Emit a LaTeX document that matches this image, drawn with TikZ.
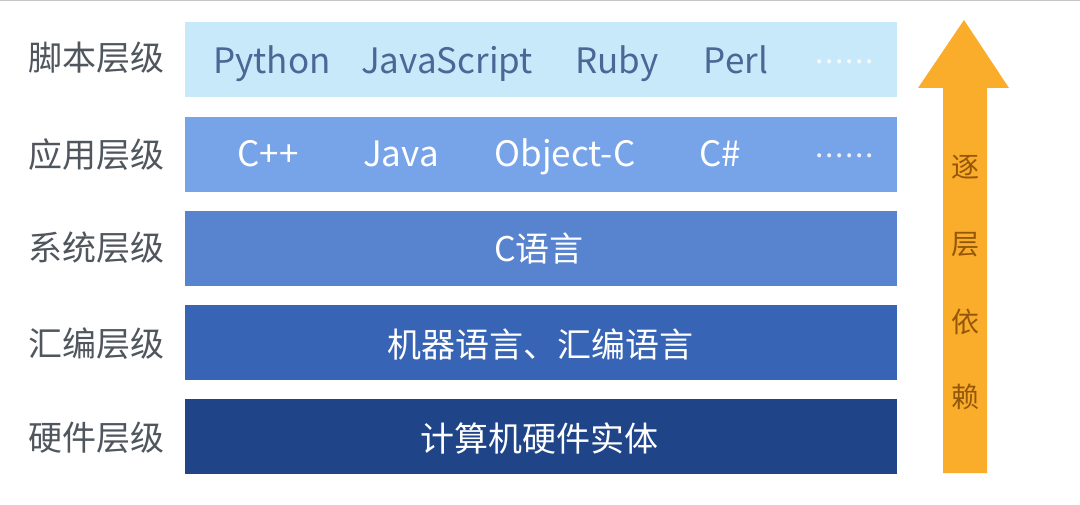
\documentclass[tikz,border=0pt]{standalone}
\usepackage{fontspec}
\setmainfont{Noto Sans CJK SC}
\definecolor{barA}{HTML}{C8E9FA}
\definecolor{barB}{HTML}{77A3E8}
\definecolor{barC}{HTML}{5883CF}
\definecolor{barD}{HTML}{3764B4}
\definecolor{barE}{HTML}{1F4588}
\definecolor{txtA}{HTML}{4A6796}
\definecolor{lbl}{HTML}{50565E}
\definecolor{arrowfill}{HTML}{FAAD2B}
\definecolor{arrowtxt}{HTML}{94570A}
\newcommand{\sixdots}{\makebox[10pt]{.}\makebox[10pt]{.}\makebox[10pt]{.}\makebox[10pt]{.}\makebox[10pt]{.}\makebox[10pt]{.}}
\begin{document}
\begin{tikzpicture}[x=1pt,y=-1pt,
  layerbar/.style={anchor=north west,minimum width=712pt,minimum height=75pt,inner sep=0pt},
  lvl/.style={anchor=base,text=lbl,font=\fontsize{34}{38}\selectfont,inner sep=0pt},
  itemA/.style={anchor=base,text=txtA,font=\fontsize{35}{38}\selectfont,inner sep=0pt},
  itemW/.style={anchor=base,text=white,font=\fontsize{35}{38}\selectfont,inner sep=0pt},
  cjkW/.style={anchor=base,text=white,font=\fontsize{34}{38}\selectfont,inner sep=0pt},
  dotrow/.style={font=\fontsize{30}{32}\selectfont,inner sep=0pt},
  arrowlbl/.style={text=arrowtxt,font=\fontsize{28}{30}\selectfont,inner sep=0pt}]
\useasboundingbox (0,0) rectangle (1080,505);
\fill[white] (0,0) rectangle (1080,505);
\draw[gray!45,line width=1.2pt] (0,0.6) -- (1080,0.6);
% bars
\node[layerbar,fill=barA] (b1) at (185,22) {};
\node[layerbar,fill=barB] (b2) at (185,117) {};
\node[layerbar,fill=barC] (b3) at (185,211) {};
\node[layerbar,fill=barD] (b4) at (185,305) {};
\node[layerbar,fill=barE] (b5) at (185,399) {};
% left labels
\node[lvl] (l1) at (96,70.5) {脚本层级};
\node[lvl] (l2) at (96,167.5) {应用层级};
\node[lvl] (l3) at (96,260.5) {系统层级};
\node[lvl] (l4) at (96,356) {汇编层级};
\node[lvl] (l5) at (96,450.5) {硬件层级};
% bar 1
\node[itemA] (py) at (272,74) {Python};
\node[itemA] (js) at (447,74) {JavaScript};
\node[itemA] (rb) at (617,74) {Ruby};
\node[itemA] (pl) at (736,74) {Perl};
\node[dotrow,text=white!80!barA] (d1) at (845,62) {\sixdots};
% bar 2
\node[itemW] (cpp) at (268,167) {C++};
\node[itemW] (jv) at (401,167) {Java};
\node[itemW] (oc) at (565,167) {Object-C};
\node[itemW] (cs) at (720,167) {C\#};
\node[dotrow,text=white!85!barB] (d2) at (845,156) {\sixdots};
% bars 3-5
\node[cjkW] (c) at (539,262) {C语言};
\node[cjkW] (asm) at (540,357) {机器语言、汇编语言};
\node[cjkW] (hw) at (539,451) {计算机硬件实体};
% arrow
\fill[arrowfill] (943,473) -- (943,88) -- (918,88) -- (964,20) -- (1009,88) -- (987,88) -- (987,473) -- cycle;
\node[arrowlbl] (a1) at (965,167) {逐};
\node[arrowlbl] (a2) at (965,245) {层};
\node[arrowlbl] (a3) at (965,322) {依};
\node[arrowlbl] (a4) at (965,397) {赖};
\end{tikzpicture}
\end{document}
